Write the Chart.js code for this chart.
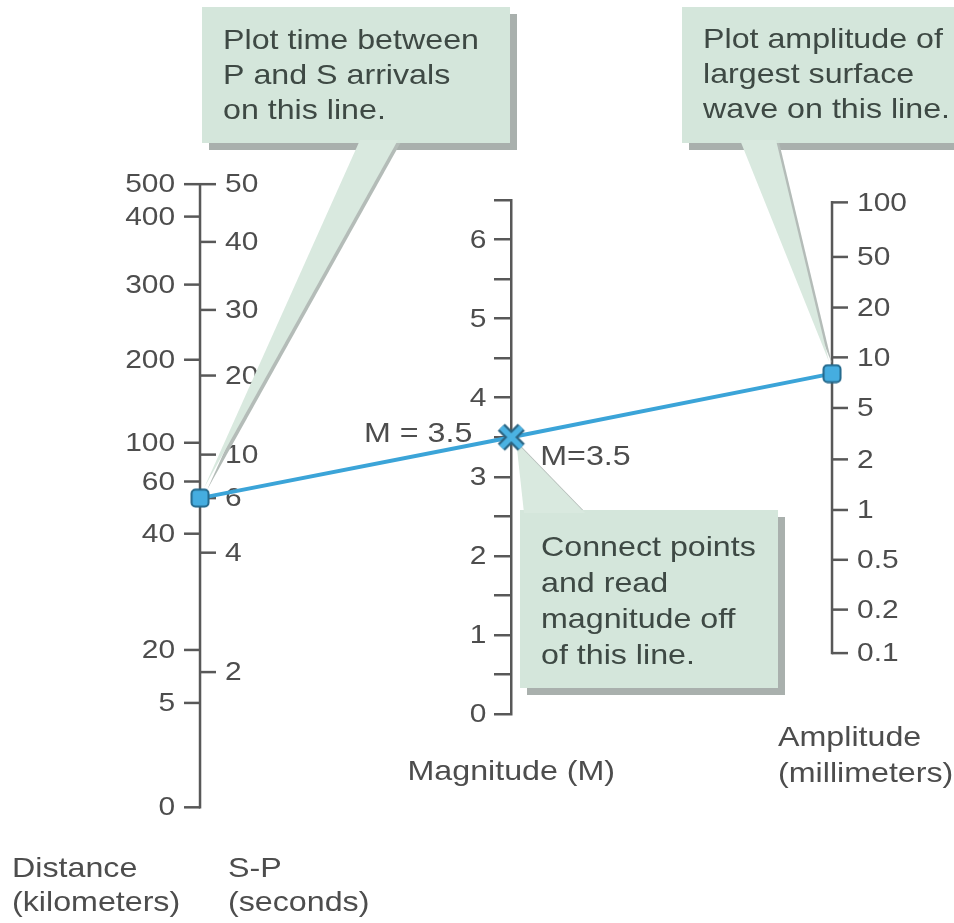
<!DOCTYPE html>
<html>
<head>
<meta charset="utf-8">
<script src="https://cdn.jsdelivr.net/npm/chart.js@4.4.0/dist/chart.umd.min.js"></script>
<style>
  html, body { margin: 0; padding: 0; background: #fff; }
  canvas { display: block; }
</style>
</head>
<body>
<canvas id="nomogram" width="954" height="923"></canvas>
<script>
// Distance (km) on the left of the first line
const distanceTicks = [500, 400, 300, 200, 100, 60, 40, 20, 5, 0];
// where each distance tick sits, read as a level on the magnitude line
const distanceLevels = [6.7, 6.29, 5.43, 4.48, 3.43, 2.94, 2.28, 0.81, 0.14, -1.18];

// S-P time (seconds) on the right of the first line
const spTicks = [50, 40, 30, 20, 10, 6, 4, 2];
const spLevels = [6.7, 5.97, 5.11, 4.28, 3.28, 2.73, 2.04, 0.53];

// Amplitude (mm) on the last line
const amplitudeTicks = [100, 50, 20, 10, 5, 2, 1, 0.5, 0.2, 0.1];
const amplitudeLevels = [6.47, 5.78, 5.14, 4.51, 3.87, 3.22, 2.58, 1.95, 1.32, 0.77];

// Magnitude line
const magnitudeMin = 0;
const magnitudeMax = 6.5;

// the worked example
const spReading = 6;
const magnitudeReading = 3.5;
const amplitudeReading = 8;

const FONT = "'Liberation Sans', Arial, sans-serif";
const AXIS_COLOR = "#585858";
const TEXT_COLOR = "#4d4d4d";
const STRETCH = 1.15; // the lettering in the figure is a bit wide
const TICK = 16;

// columns of the nomogram on the hidden x scale
const columns = { left: 0, middle: 0.985, right: 2 };

// level on the magnitude line for a value on one of the log-ish scales
function levelOf(ticks, levels, v) {
    for (let i = 0; i < ticks.length - 1; i++) {
        const a = ticks[i], b = ticks[i + 1];
        if (v <= a && v >= b) {
            if (v === a) return levels[i];
            const t = (Math.log(a) - Math.log(v)) / (Math.log(a) - Math.log(b));
            return levels[i] + t * (levels[i + 1] - levels[i]);
        }
    }
    return levels[levels.length - 1];
}

function text(ctx, str, x, y, align, size, color) {
    ctx.save();
    ctx.translate(x, y);
    ctx.scale(STRETCH, 1);
    ctx.font = `${size}px ${FONT}`;
    ctx.fillStyle = color || TEXT_COLOR;
    ctx.textAlign = align;
    ctx.fillText(str, 0, 0);
    ctx.restore();
}

function drawScale(ctx, x, ys, ticks, levels, side) {
    ctx.save();
    ctx.strokeStyle = AXIS_COLOR;
    ctx.lineWidth = 2.5;
    ticks.forEach((t, i) => {
        const y = ys.getPixelForValue(levels[i]);
        ctx.beginPath();
        ctx.moveTo(x, y);
        ctx.lineTo(x + side * TICK, y);
        ctx.stroke();
        ctx.textBaseline = "middle";
        text(ctx, String(t), x + side * (TICK + 9), y + 1, side < 0 ? "right" : "left", 26);
    });
    ctx.restore();
}

function drawAxisLine(ctx, x, ys, top, bottom) {
    ctx.save();
    ctx.strokeStyle = AXIS_COLOR;
    ctx.lineWidth = 2.5;
    ctx.beginPath();
    ctx.moveTo(x, ys.getPixelForValue(top) - 1.25);
    ctx.lineTo(x, ys.getPixelForValue(bottom) + 1.25);
    ctx.stroke();
    ctx.restore();
}

function poly(ctx, pts, dx, dy) {
    ctx.beginPath();
    pts.forEach((p, i) => (i ? ctx.lineTo(p[0] + dx, p[1] + dy) : ctx.moveTo(p[0] + dx, p[1] + dy)));
    ctx.closePath();
    ctx.fill();
}

function drawCallout(ctx, c) {
    const [bx, by, bw, bh] = c.box;
    const sh = 7;
    ctx.save();
    ctx.fillStyle = "#a9b0ad";
    ctx.fillRect(bx + sh, by + sh, bw, bh);
    ctx.fillStyle = "#b4bcb8";
    poly(ctx, c.wedge, 3, 2);
    ctx.fillStyle = "#d4e6db";
    ctx.fillRect(bx, by, bw, bh);
    ctx.fillStyle = "#d9e9df";
    poly(ctx, c.wedge, 0, 0);
    ctx.textBaseline = "alphabetic";
    c.lines.forEach((l, i) => text(ctx, l, bx + 21, c.firstBaseline + i * c.lineGap, "left", 28, "#3e4944"));
    ctx.restore();
}

function makeSquare() {
    const c = document.createElement("canvas");
    c.width = 20; c.height = 20;
    const g = c.getContext("2d");
    g.fillStyle = "#45ade0";
    g.strokeStyle = "#24698c";
    g.lineWidth = 2;
    g.beginPath();
    g.roundRect(1.5, 1.5, 17, 17, 4);
    g.fill();
    g.stroke();
    return c;
}

function makeCross() {
    const c = document.createElement("canvas");
    c.width = 32; c.height = 30;
    const g = c.getContext("2d");
    const path = () => {
        g.beginPath();
        g.moveTo(6, 5); g.lineTo(26, 25);
        g.moveTo(26, 5); g.lineTo(6, 25);
    };
    g.lineCap = "butt";
    path(); g.strokeStyle = "#2a6381"; g.lineWidth = 10; g.stroke();
    path(); g.strokeStyle = "#4bb2e2"; g.lineWidth = 5.5; g.stroke();
    return c;
}

const nomogramPlugin = {
    id: "nomogram",
    beforeDatasetsDraw(chart) {
        const ctx = chart.ctx;
        const xs = chart.scales.x, ys = chart.scales.y;
        const xl = xs.getPixelForValue(columns.left);
        const xm = xs.getPixelForValue(columns.middle);
        const xr = xs.getPixelForValue(columns.right);

        // magnitude labels, next to the library's own tick marks
        ctx.save();
        ctx.textBaseline = "middle";
        ys.ticks.forEach((t) => {
            if (Number.isInteger(t.value)) {
                text(ctx, String(t.value), xm - TICK - 9, ys.getPixelForValue(t.value) + 1, "right", 26);
            }
        });
        ctx.restore();

        drawAxisLine(ctx, xl, ys, distanceLevels[0], distanceLevels[distanceLevels.length - 1]);
        drawScale(ctx, xl, ys, distanceTicks, distanceLevels, -1);
        drawScale(ctx, xl, ys, spTicks, spLevels, 1);

        drawAxisLine(ctx, xr, ys, amplitudeLevels[0], amplitudeLevels[amplitudeLevels.length - 1]);
        drawScale(ctx, xr, ys, amplitudeTicks, amplitudeLevels, 1);

        const ySp = ys.getPixelForValue(levelOf(spTicks, spLevels, spReading));
        const yAmp = ys.getPixelForValue(levelOf(amplitudeTicks, amplitudeLevels, amplitudeReading));
        const yM = ys.getPixelForValue(magnitudeReading);

        const callouts = [
            {
                box: [202, 7, 308, 136],
                lines: ["Plot time between", "P and S arrivals", "on this line."],
                firstBaseline: 49, lineGap: 35,
                wedge: [[360, 140], [398, 140], [xl + 4, ySp - 10]],
            },
            {
                box: [682, 7, 290, 136],
                lines: ["Plot amplitude of", "largest surface", "wave on this line."],
                firstBaseline: 48, lineGap: 35,
                wedge: [[740, 140], [776, 140], [xr - 3, yAmp - 12]],
            },
            {
                box: [520, 510, 258, 178],
                lines: ["Connect points", "and read", "magnitude off", "of this line."],
                firstBaseline: 556, lineGap: 36,
                wedge: [[xm + 5, yM + 5], [585, 513], [524, 513]],
            },
        ];
        callouts.forEach((c) => drawCallout(ctx, c));
    },
    afterDraw(chart) {
        const ctx = chart.ctx;
        const xs = chart.scales.x, ys = chart.scales.y;
        const xl = xs.getPixelForValue(columns.left);
        const xm = xs.getPixelForValue(columns.middle);
        const xr = xs.getPixelForValue(columns.right);
        const yM = ys.getPixelForValue(magnitudeReading);
        ctx.save();
        ctx.textBaseline = "alphabetic";
        text(ctx, "M = " + magnitudeReading, xm - 39, yM + 5, "right", 28);
        text(ctx, "M=" + magnitudeReading, xm + 29, yM + 28, "left", 28);

        text(ctx, "Magnitude (M)", xm, 780, "center", 28);
        text(ctx, "Amplitude", xr - 54, 746, "left", 28);
        text(ctx, "(millimeters)", xr - 54, 782, "left", 28);
        text(ctx, "Distance", xl - 188, 877, "left", 28);
        text(ctx, "(kilometers)", xl - 188, 911, "left", 28);
        text(ctx, "S-P", xl + 28, 877, "left", 28);
        text(ctx, "(seconds)", xl + 28, 911, "left", 28);
        ctx.restore();
    },
};

document.addEventListener("DOMContentLoaded", function () {
    const ctx = document.getElementById("nomogram").getContext("2d");
    const square = makeSquare();
    const cross = makeCross();

    new Chart(ctx, {
        type: "scatter",
        data: {
            datasets: [
                {
                    label: "reading",
                    data: [
                        { x: columns.left, y: levelOf(spTicks, spLevels, spReading) },
                        { x: columns.middle, y: magnitudeReading },
                        { x: columns.right, y: levelOf(amplitudeTicks, amplitudeLevels, amplitudeReading) },
                    ],
                    showLine: true,
                    borderColor: "#3ba4d8",
                    borderWidth: 4,
                    pointStyle: [square, cross, square],
                    pointRadius: 10,
                    pointHoverRadius: 10,
                    clip: false,
                },
            ],
        },
        options: {
            responsive: false,
            maintainAspectRatio: false,
            animation: false,
            layout: { autoPadding: false, padding: { top: 200, bottom: 209, left: 0, right: 0 } },
            plugins: {
                legend: { display: false },
                tooltip: { enabled: false },
            },
            scales: {
                x: { type: "linear", display: false, min: -0.633, max: 2.386 },
                y: {
                    type: "linear",
                    min: magnitudeMin,
                    max: magnitudeMax,
                    position: { x: columns.middle },
                    grid: {
                        drawOnChartArea: false,
                        drawTicks: true,
                        tickLength: TICK,
                        color: AXIS_COLOR,
                        lineWidth: 2.5,
                    },
                    border: { display: true, color: AXIS_COLOR, width: 2.5 },
                    ticks: {
                        display: false,
                        stepSize: 0.5,
                        autoSkip: false,
                    },
                },
            },
        },
        plugins: [nomogramPlugin],
    });
});
</script>
</body>
</html>
